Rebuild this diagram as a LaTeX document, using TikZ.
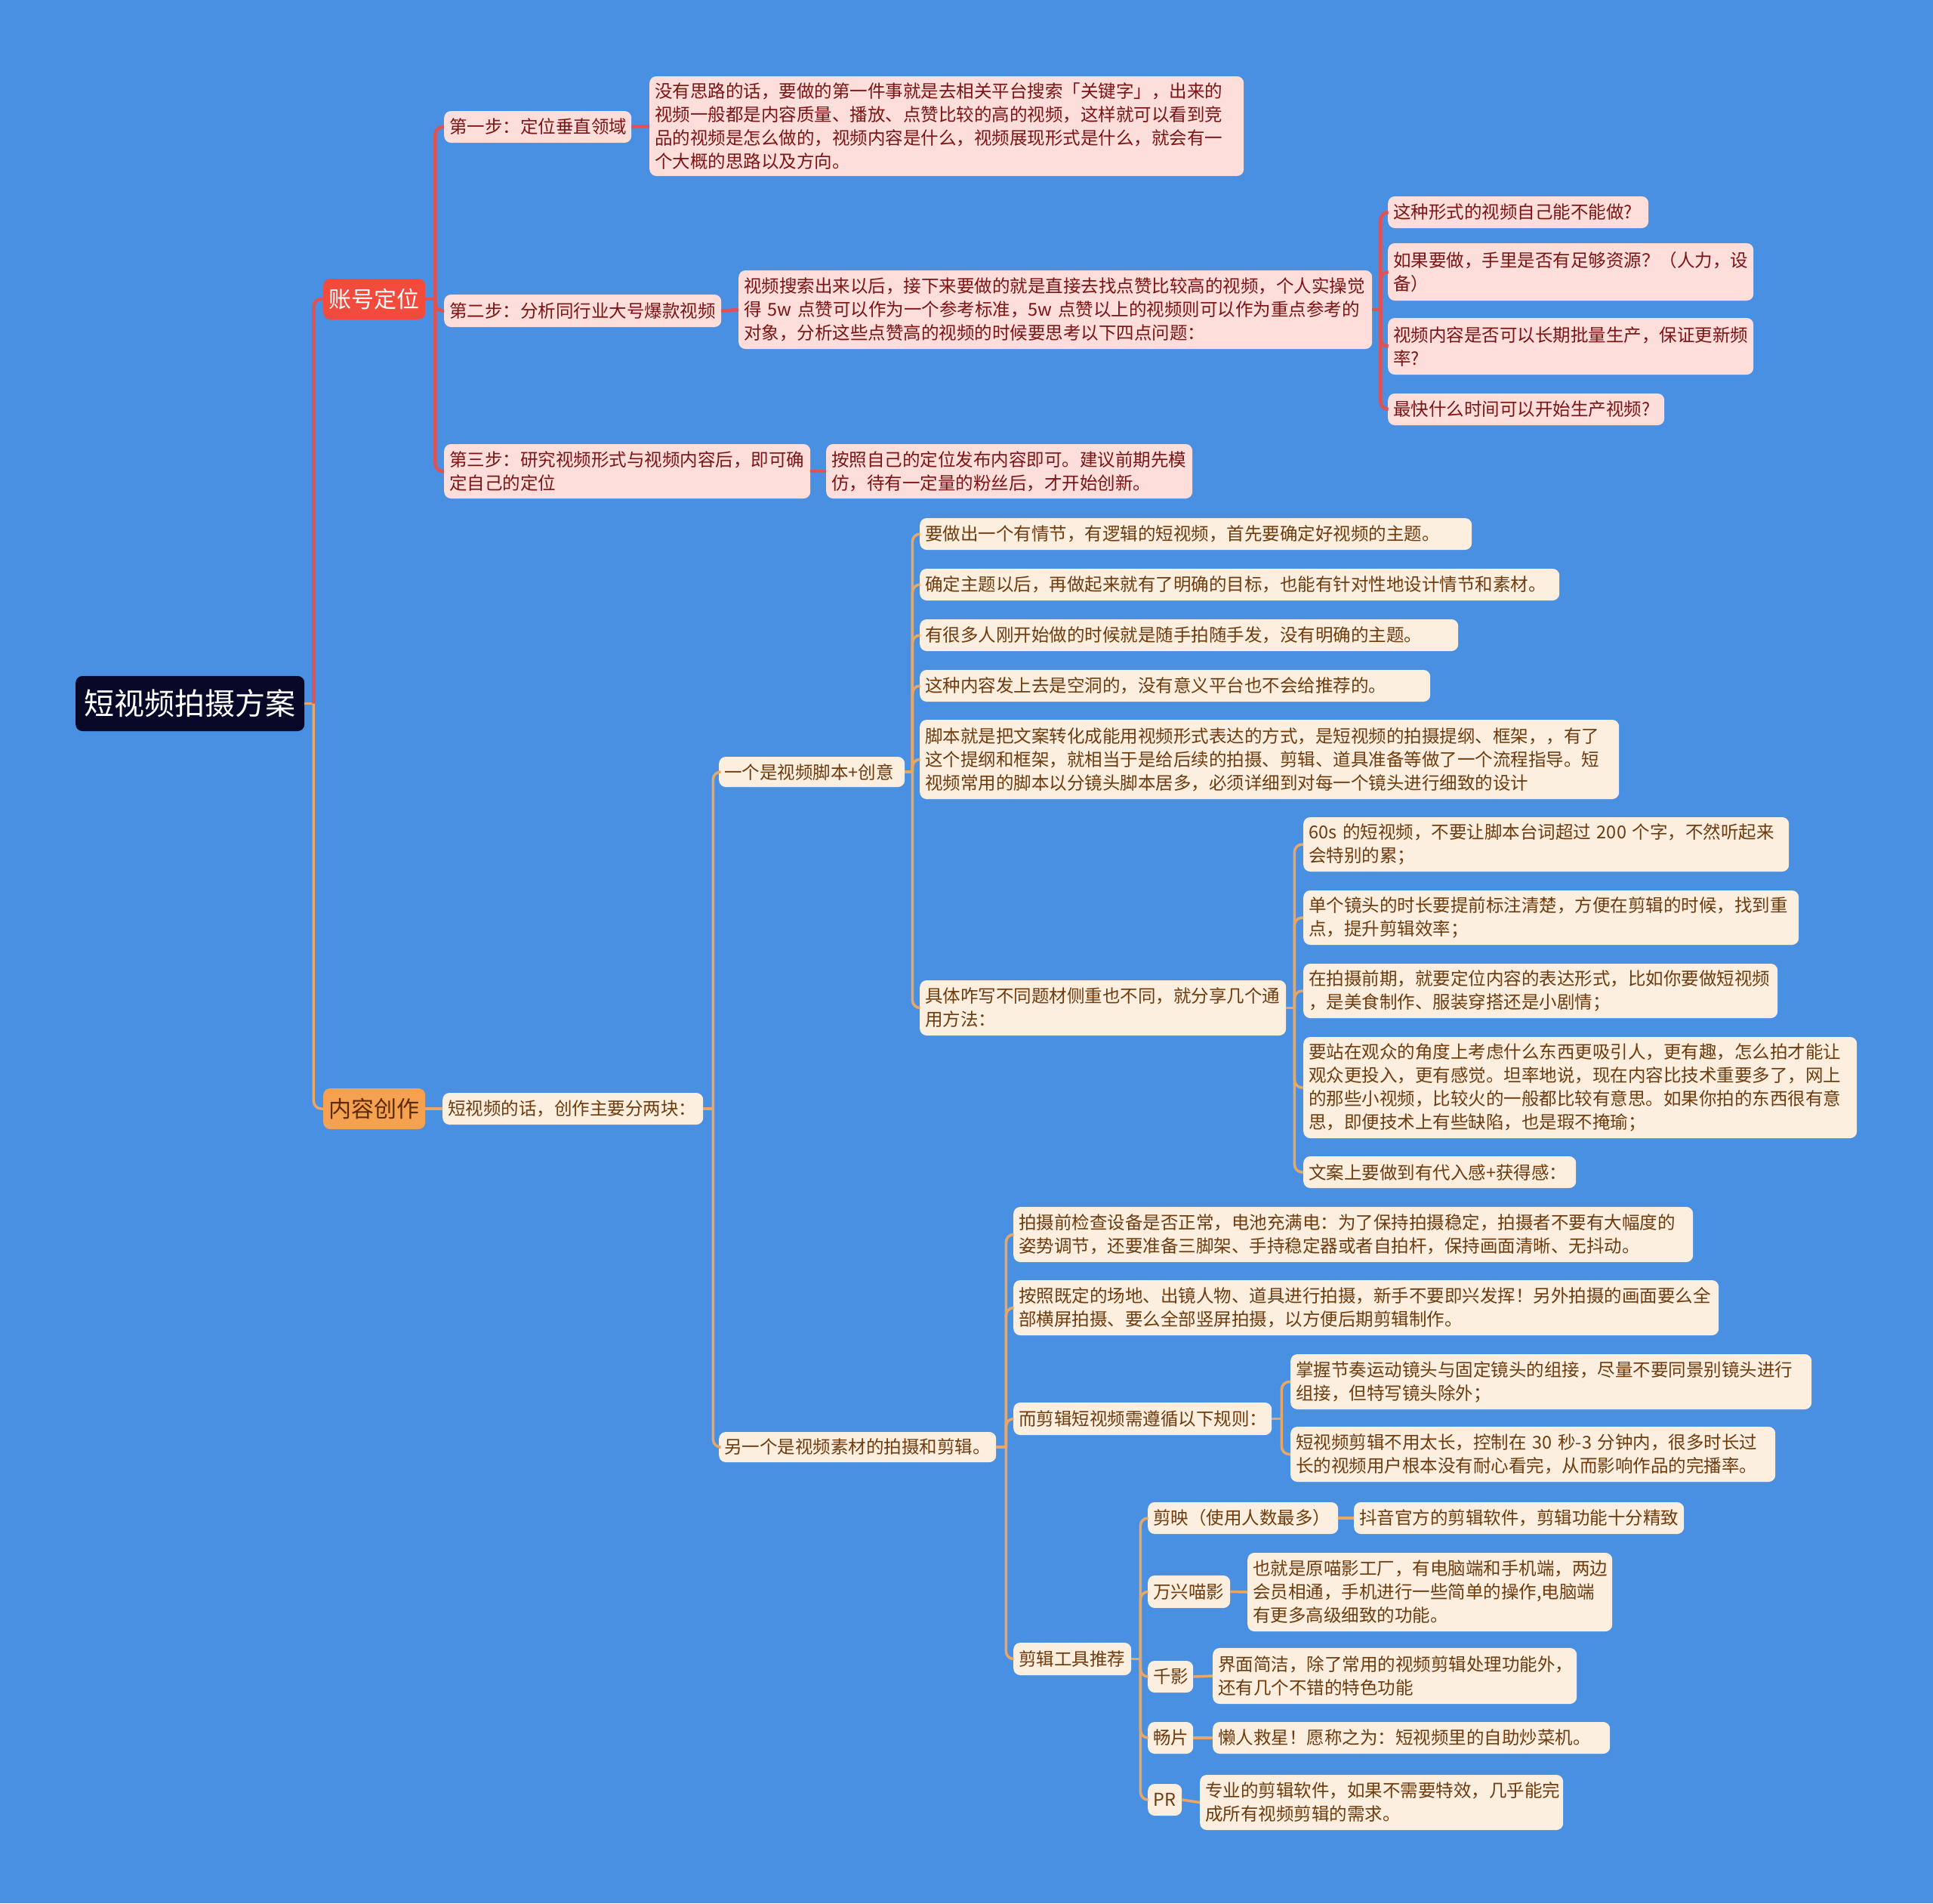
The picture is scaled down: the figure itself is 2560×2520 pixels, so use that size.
\documentclass[tikz,border=0pt]{standalone}
\usepackage{fontspec}
\setmainfont{Noto Sans CJK SC}
\definecolor{bgblue}{RGB}{74,144,226}
\definecolor{rootfill}{RGB}{8,8,40}
\definecolor{redfill}{RGB}{242,74,61}
\definecolor{redline}{RGB}{222,82,86}
\definecolor{pinkfill}{RGB}{253,222,219}
\definecolor{redtext}{RGB}{123,20,20}
\definecolor{orangefill}{RGB}{245,161,79}
\definecolor{orangetext}{RGB}{91,42,6}
\definecolor{orline}{RGB}{233,167,102}
\definecolor{creamfill}{RGB}{253,239,223}
\definecolor{browntext}{RGB}{110,59,14}
\newcommand\fsA{\fontsize{23.5}{31}\selectfont}
\newcommand\fsB{\fontsize{30}{36}\selectfont}
\newcommand\fsC{\fontsize{40}{48}\selectfont}
\begin{document}
\begin{tikzpicture}[x=1pt,y=-1pt,
  box/.style={rounded corners=9pt, anchor=west, align=left, inner xsep=7pt, inner ysep=4pt, font=\fsA},
  bw/.style={minimum width=#1pt, text width=\dimexpr#1pt-14pt\relax},
  pk/.style={box, fill=pinkfill, text=redtext},
  cr/.style={box, fill=creamfill, text=browntext},
  redln/.style={draw=redline, line width=4.5pt, rounded corners=10pt},
  orln/.style={draw=orline, line width=3.5pt, rounded corners=10pt}]
\fill[bgblue] (0,0) rectangle (2560,2520);
\useasboundingbox (0,0) rectangle (2560,2520);

% root and main topics
\node[box, align=center, fill=rootfill, text=white, font=\fsC, minimum width=303pt, minimum height=73pt] (root) at (100,931.5) {短视频拍摄方案};
\node[box, align=center, fill=redfill, text=white, font=\fsB, minimum width=135pt, minimum height=54pt] (zh) at (428,396) {账号定位};
\node[box, align=center, fill=orangefill, text=orangetext, font=\fsB, minimum width=135pt, minimum height=54pt] (nr) at (428,1468) {内容创作};

% account positioning branch
\node[pk, bw=248, minimum height=42pt] (s1) at (588,168) {第一步：定位垂直领域};
\node[pk, bw=367, minimum height=43pt] (s2) at (588,411.5) {第二步：分析同行业大号爆款视频};
\node[pk, bw=485, minimum height=72pt] (s3) at (588,624) {第三步：研究视频形式与视频内容后，即可确\\定自己的定位};
\node[pk, bw=787, minimum height=132pt] (d1) at (860,167) {没有思路的话，要做的第一件事就是去相关平台搜索「关键字」，出来的\\视频一般都是内容质量、播放、点赞比较的高的视频，这样就可以看到竞\\品的视频是怎么做的，视频内容是什么，视频展现形式是什么，就会有一\\个大概的思路以及方向。};
\node[pk, bw=839, minimum height=104pt] (d2) at (978,410) {视频搜索出来以后，接下来要做的就是直接去找点赞比较高的视频，个人实操觉\\\mbox{得 5w 点赞可以作为一个参考标准，5w 点赞以上的视频则可以作为重点参考的}\\对象，分析这些点赞高的视频的时候要思考以下四点问题：};
\node[pk, bw=485, minimum height=72pt] (d3) at (1094,624) {按照自己的定位发布内容即可。建议前期先模\\仿，待有一定量的粉丝后，才开始创新。};
\node[pk, bw=345, minimum height=42pt] (q1) at (1838,281) {这种形式的视频自己能不能做?};
\node[pk, bw=484, minimum height=76pt] (q2) at (1838,360) {如果要做，手里是否有足够资源？（人力，设\\备）};
\node[pk, bw=484, minimum height=75pt] (q3) at (1838,458.5) {视频内容是否可以长期批量生产，保证更新频\\率?};
\node[pk, bw=366, minimum height=42pt] (q4) at (1838,542) {最快什么时间可以开始生产视频?};

% content creation branch
\node[cr, bw=345, minimum height=42pt] (c0) at (586,1468) {短视频的话，创作主要分两块：};
\node[cr, bw=246, minimum height=40pt] (c1) at (952,1022) {一个是视频脚本+创意};
\node[cr, bw=367, minimum height=40pt] (c2) at (952,1916) {另一个是视频素材的拍摄和剪辑。};

\node[cr, bw=731, minimum height=42pt] (e1) at (1218,707) {要做出一个有情节，有逻辑的短视频，首先要确定好视频的主题。};
\node[cr, bw=847, minimum height=42pt] (e2) at (1218,774) {确定主题以后，再做起来就有了明确的目标，也能有针对性地设计情节和素材。};
\node[cr, bw=713, minimum height=42pt] (e3) at (1218,841) {有很多人刚开始做的时候就是随手拍随手发，没有明确的主题。};
\node[cr, bw=676, minimum height=42pt] (e4) at (1218,908) {这种内容发上去是空洞的，没有意义平台也不会给推荐的。};
\node[cr, bw=926, minimum height=105pt] (e5) at (1218,1005.5) {脚本就是把文案转化成能用视频形式表达的方式，是短视频的拍摄提纲、框架，，有了\\这个提纲和框架，就相当于是给后续的拍摄、剪辑、道具准备等做了一个流程指导。短\\视频常用的脚本以分镜头脚本居多，必须详细到对每一个镜头进行细致的设计};
\node[cr, bw=485, minimum height=73pt] (e6) at (1218,1334.5) {具体咋写不同题材侧重也不同，就分享几个通\\用方法：};

\node[cr, bw=643, minimum height=72pt] (f1) at (1726,1118) {\mbox{60s 的短视频，不要让脚本台词超过 200 个字，不然听起来}\\会特别的累；};
\node[cr, bw=656, minimum height=72pt] (f2) at (1726,1215) {单个镜头的时长要提前标注清楚，方便在剪辑的时候，找到重\\点，提升剪辑效率；};
\node[cr, bw=628, minimum height=72pt] (f3) at (1726,1312) {在拍摄前期，就要定位内容的表达形式，比如你要做短视频\\，是美食制作、服装穿搭还是小剧情；};
\node[cr, bw=733, minimum height=134pt] (f4) at (1726,1440) {要站在观众的角度上考虑什么东西更吸引人，更有趣，怎么拍才能让\\观众更投入，更有感觉。坦率地说，现在内容比技术重要多了，网上\\的那些小视频，比较火的一般都比较有意思。如果你拍的东西很有意\\思，即便技术上有些缺陷，也是瑕不掩瑜；};
\node[cr, bw=361, minimum height=42pt] (f5) at (1726,1552) {文案上要做到有代入感+获得感：};

\node[cr, bw=900, minimum height=73pt] (g1) at (1342,1634.5) {拍摄前检查设备是否正常，电池充满电：为了保持拍摄稳定，拍摄者不要有大幅度的\\姿势调节，还要准备三脚架、手持稳定器或者自拍杆，保持画面清晰、无抖动。};
\node[cr, bw=934, minimum height=73pt] (g2) at (1342,1731.5) {按照既定的场地、出镜人物、道具进行拍摄，新手不要即兴发挥！另外拍摄的画面要么全\\部横屏拍摄、要么全部竖屏拍摄，以方便后期剪辑制作。};
\node[cr, bw=342, minimum height=43pt] (g3) at (1342,1878.5) {而剪辑短视频需遵循以下规则：};
\node[cr, bw=156, minimum height=43pt] (g4) at (1342,2196.5) {剪辑工具推荐};

\node[cr, bw=690, minimum height=73pt] (h1) at (1709,1829.5) {掌握节奏运动镜头与固定镜头的组接，尽量不要同景别镜头进行\\组接，但特写镜头除外；};
\node[cr, bw=642, minimum height=73pt] (h2) at (1709,1925.5) {\mbox{短视频剪辑不用太长，控制在 30 秒-3 分钟内，很多时长过}\\长的视频用户根本没有耐心看完，从而影响作品的完播率。};

\node[cr, bw=252, minimum height=42pt] (t1) at (1520,2010) {剪映（使用人数最多）};
\node[cr, bw=109, minimum height=43pt] (t2) at (1520,2107.5) {万兴喵影};
\node[cr, bw=60, minimum height=42pt] (t3) at (1520,2220) {千影};
\node[cr, bw=60, minimum height=42pt] (t4) at (1520,2301) {畅片};
\node[cr, bw=45, minimum height=42pt] (t5) at (1520,2383) {PR};

\node[cr, bw=437, minimum height=42pt] (u1) at (1793,2010) {抖音官方的剪辑软件，剪辑功能十分精致};
\node[cr, bw=483, minimum height=104pt] (u2) at (1652,2108) {也就是原喵影工厂，有电脑端和手机端，两边\\会员相通，手机进行一些简单的操作,电脑端\\有更多高级细致的功能。};
\node[cr, bw=482, minimum height=74pt] (u3) at (1606,2219) {界面简洁，除了常用的视频剪辑处理功能外，\\还有几个不错的特色功能};
\node[cr, bw=526, minimum height=42pt] (u4) at (1606,2301) {懒人救星！愿称之为：短视频里的自助炒菜机。};
\node[cr, bw=481, minimum height=73pt] (u5) at (1589,2386.5) {专业的剪辑软件，如果不需要特效，几乎能完\\成所有视频剪辑的需求。};

% junction coordinates
\coordinate (jr) at ([xshift=12pt]root.east);
\coordinate (jz) at ([xshift=13pt]zh.east);
\coordinate (jd2) at ([xshift=11pt]d2.east);
\coordinate (jc0) at ([xshift=13pt]c0.east);
\coordinate (jc1) at ([xshift=10pt]c1.east);
\coordinate (je6) at ([xshift=11pt]e6.east);
\coordinate (jc2) at ([xshift=13pt]c2.east);
\coordinate (jg3) at ([xshift=13pt]g3.east);
\coordinate (jg4) at ([xshift=12pt]g4.east);

% connectors: root
\draw[orln] (root.east) -- (jr);
\draw[redln] (jr) |- (zh.west);
\draw[orln] (jr) |- (nr.west);

% account branch
\draw[redln] (zh.east) -- (jz);
\foreach \c in {s1,s2,s3} \draw[redln] (jz) |- (\c.west);
\draw[redln] (s1.east) -- (d1.west);
\draw[redln] (s2.east) -- (d2.west);
\draw[redln] (s3.east) -- (d3.west);
\draw[redln] (d2.east) -- (jd2);
\foreach \c in {q1,q2,q3,q4} \draw[redln] (jd2) |- (\c.west);

% content branch
\draw[orln] (nr.east) -- (c0.west);
\draw[orln] (c0.east) -- (jc0);
\foreach \c in {c1,c2} \draw[orln] (jc0) |- (\c.west);
\draw[orln] (c1.east) -- (jc1);
\foreach \c in {e1,e2,e3,e4,e5,e6} \draw[orln] (jc1) |- (\c.west);
\draw[orln] (e6.east) -- (je6);
\foreach \c in {f1,f2,f3,f4,f5} \draw[orln] (je6) |- (\c.west);
\draw[orln] (c2.east) -- (jc2);
\foreach \c in {g1,g2,g3,g4} \draw[orln] (jc2) |- (\c.west);
\draw[orln] (g3.east) -- (jg3);
\foreach \c in {h1,h2} \draw[orln] (jg3) |- (\c.west);
\draw[orln] (g4.east) -- (jg4);
\foreach \c in {t1,t2,t3,t4,t5} \draw[orln] (jg4) |- (\c.west);
\draw[orln] (t1.east) -- (u1.west);
\draw[orln] (t2.east) -- (u2.west);
\draw[orln] (t3.east) -- (u3.west);
\draw[orln] (t4.east) -- (u4.west);
\draw[orln] (t5.east) -- (u5.west);
\end{tikzpicture}
\end{document}
